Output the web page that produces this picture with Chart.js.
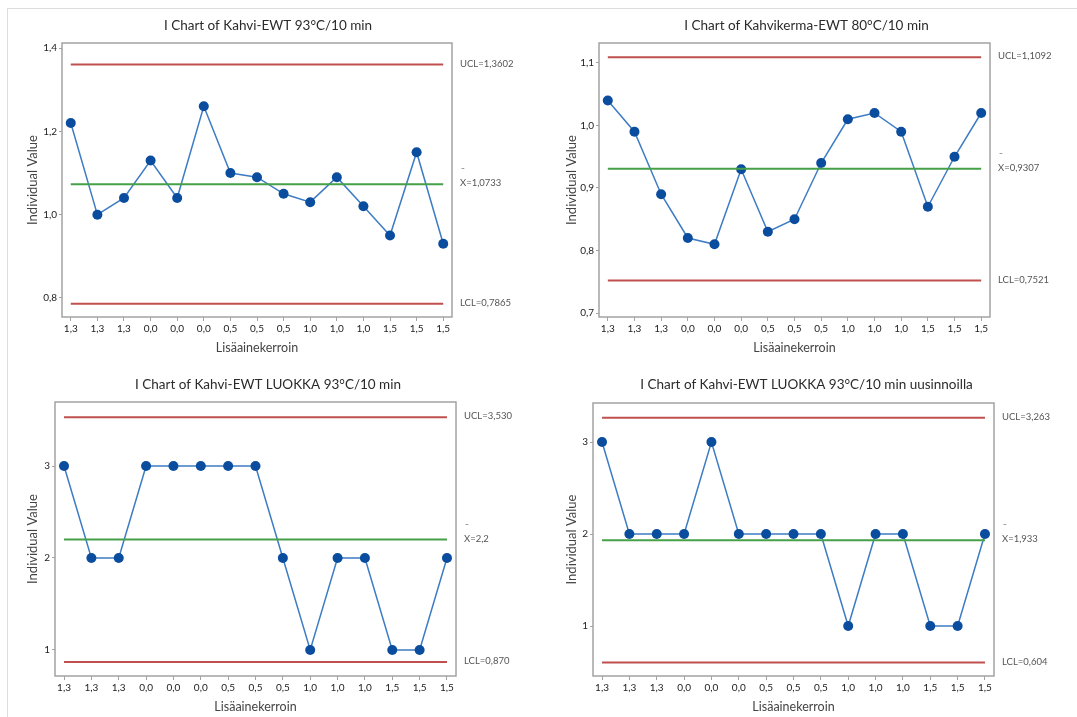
<!DOCTYPE html>
<html>
<head>
<meta charset="utf-8">
<script src="https://cdn.jsdelivr.net/npm/chart.js@4.4.1/dist/chart.umd.min.js"></script>
<style>
  html, body { margin: 0; padding: 0; background: #ffffff; }
  #page { position: relative; width: 1077px; height: 717px; overflow: hidden; background: #ffffff; }
  #frame { position: absolute; left: 7px; top: 8px; right: -2px; bottom: -2px;
           border-top: 1px solid #dcdcdc; border-left: 1px solid #dcdcdc; }
  canvas { position: absolute; }
</style>
</head>
<body>
<div id="page">
  <div id="frame"></div>
  <canvas id="c1" width="538" height="358" style="left:0px;top:0px"></canvas>
  <canvas id="c2" width="539" height="358" style="left:538px;top:0px"></canvas>
  <canvas id="c3" width="538" height="359" style="left:0px;top:358px"></canvas>
  <canvas id="c4" width="539" height="359" style="left:538px;top:358px"></canvas>
</div>
<script>
// Sample order labels (additive factor) shared by all four I charts
const categories = ['1,3','1,3','1,3','0,0','0,0','0,0','0,5','0,5','0,5','1,0','1,0','1,0','1,5','1,5','1,5'];

// Individual values
const kahviEwt93 = [1.22, 1.00, 1.04, 1.13, 1.04, 1.26, 1.10, 1.09, 1.05, 1.03, 1.09, 1.02, 0.95, 1.15, 0.93];
const kahvikermaEwt80 = [1.04, 0.99, 0.89, 0.82, 0.81, 0.93, 0.83, 0.85, 0.94, 1.01, 1.02, 0.99, 0.87, 0.95, 1.02];
const kahviLuokka93 = [3, 2, 2, 3, 3, 3, 3, 3, 2, 1, 2, 2, 1, 1, 2];
const kahviLuokka93Uusinnat = [3, 2, 2, 2, 3, 2, 2, 2, 2, 1, 2, 2, 1, 1, 2];

// Control limits: [UCL, mean, LCL] and the decimals shown for each
const limitsKahvi = [1.3602, 1.0733, 0.7865];
const limitsKahvikerma = [1.1092, 0.9307, 0.7521];
const limitsLuokka = [3.530, 2.2, 0.870];
const limitsLuokkaUusinnat = [3.263, 1.933, 0.604];
const decimalsKahvi = [4, 4, 4];
const decimalsKahvikerma = [4, 4, 4];
const decimalsLuokka = [3, 1, 3];
const decimalsLuokkaUusinnat = [3, 3, 3];

// Y axis tick values
const ticksKahvi = [0.8, 1.0, 1.2, 1.4];
const ticksKahvikerma = [0.7, 0.8, 0.9, 1.0, 1.1];
const ticksLuokka = [1, 2, 3];
const ticksLuokkaUusinnat = [1, 2, 3];

const titles = [
  'I Chart of Kahvi-EWT 93°C/10 min',
  'I Chart of Kahvikerma-EWT 80°C/10 min',
  'I Chart of Kahvi-EWT LUOKKA 93°C/10 min',
  'I Chart of Kahvi-EWT LUOKKA 93°C/10 min uusinnoilla'
];

const FONT = 'Lato, "Open Sans", sans-serif';
const RED = '#c0504d';
const GREEN = '#45a048';
const LINE_BLUE = '#3d7cc4';
const POINT_BLUE = '#0a4c9e';

function fmt(v, d) { return v.toFixed(d).replace('.', ','); }

// Draws the chart title, the plot frame and the limit annotations
const decorations = {
  id: 'decorations',
  beforeDatasetsDraw(chart, args, opts) {
    const { ctx, chartArea: a } = chart;
    ctx.save();
    ctx.strokeStyle = '#a3a3a3';
    ctx.lineWidth = 1.5;
    ctx.strokeRect(a.left, a.top, a.right - a.left, a.bottom - a.top);
    ctx.restore();
  },
  afterDraw(chart, args, opts) {
    const { ctx, chartArea: a, scales } = chart;
    ctx.save();
    ctx.fillStyle = '#2b2b2b';
    ctx.font = '13.5px ' + FONT;
    ctx.textAlign = 'center';
    ctx.textBaseline = 'middle';
    ctx.fillText(opts.title, chart.width / 2 - 1, opts.titleY);

    ctx.font = '9.5px ' + FONT;
    ctx.fillStyle = '#555555';
    ctx.textAlign = 'left';
    const x = a.right + 8;
    const [ucl, mean, lcl] = opts.limits;
    const [du, dm, dl] = opts.decimals;
    ctx.fillText('UCL=' + fmt(ucl, du), x, scales.y.getPixelForValue(ucl) - 1);
    const ym = scales.y.getPixelForValue(mean) - 1;
    ctx.fillText('X=' + fmt(mean, dm), x, ym);
    ctx.fillText('¯', x + 1, ym - 11);
    ctx.fillText('LCL=' + fmt(lcl, dl), x, scales.y.getPixelForValue(lcl) - 1);
    ctx.restore();
  }
};

function limitLine(value, color) {
  return {
    data: [{ x: 0, y: value }, { x: categories.length - 1, y: value }],
    borderColor: color,
    borderWidth: 2,
    pointRadius: 0,
    fill: false
  };
}

function makeChart(id, cfg) {
  const values = cfg.values;
  const [ucl, mean, lcl] = cfg.limits;
  return new Chart(document.getElementById(id), {
    type: 'line',
    data: {
      datasets: [
        limitLine(ucl, RED),
        limitLine(mean, GREEN),
        limitLine(lcl, RED),
        {
          data: values.map((v, i) => ({ x: i, y: v })),
          borderColor: LINE_BLUE,
          borderWidth: 1.5,
          pointRadius: 5,
          pointBackgroundColor: POINT_BLUE,
          pointBorderColor: POINT_BLUE,
          pointBorderWidth: 0,
          fill: false
        }
      ]
    },
    options: {
      responsive: false,
      animation: false,
      devicePixelRatio: 1,
      events: [],
      layout: { padding: cfg.padding },
      plugins: {
        legend: { display: false },
        tooltip: { enabled: false },
        title: { display: false },
        decorations: { title: cfg.title, titleY: cfg.titleY, limits: cfg.limits, decimals: cfg.decimals }
      },
      scales: {
        x: {
          type: 'linear',
          min: -0.33,
          max: categories.length - 1 + 0.33,
          afterBuildTicks(scale) { scale.ticks = categories.map((c, i) => ({ value: i })); },
          afterFit(scale) { scale.height = cfg.xHeight; },
          grid: { display: true, drawOnChartArea: false, drawTicks: true, tickLength: 4, color: '#a3a3a3', tickColor: '#a3a3a3' },
          border: { display: false },
          ticks: {
            autoSkip: false, maxRotation: 0, padding: 2,
            color: '#222222', font: { family: FONT, size: 10 },
            callback: (v) => categories[v]
          },
          title: { display: true, text: 'Lisäainekerroin', color: '#444444', padding: 0, font: { family: FONT, size: 12.5 } }
        },
        y: {
          type: 'linear',
          min: cfg.yMin,
          max: cfg.yMax,
          afterBuildTicks(scale) { scale.ticks = cfg.ticks.map(v => ({ value: v })); },
          afterFit(scale) { scale.width = cfg.yWidth; },
          grid: { display: true, drawOnChartArea: false, drawTicks: true, tickLength: 3, color: '#a3a3a3', tickColor: '#a3a3a3' },
          border: { display: false },
          ticks: {
            padding: 2,
            color: '#222222', font: { family: FONT, size: 10 },
            callback: (v) => cfg.tickDecimals ? fmt(v, cfg.tickDecimals) : String(v)
          },
          title: { display: true, text: 'Individual Value', color: '#444444', padding: 0, font: { family: FONT, size: 13 } }
        }
      }
    },
    plugins: [decorations]
  });
}

makeChart('c1', {
  values: kahviEwt93, limits: limitsKahvi, decimals: decimalsKahvi,
  ticks: ticksKahvi, tickDecimals: 1, yMin: 0.7544, yMax: 1.412,
  title: titles[0], titleY: 26,
  padding: { left: 25, top: 43, right: 86, bottom: 2.5 }, yWidth: 37, xHeight: 38.5
});
makeChart('c2', {
  values: kahvikermaEwt80, limits: limitsKahvikerma, decimals: decimalsKahvikerma,
  ticks: ticksKahvikerma, tickDecimals: 1, yMin: 0.6936, yMax: 1.132,
  title: titles[1], titleY: 26,
  padding: { left: 26, top: 43, right: 87, bottom: 2.5 }, yWidth: 35, xHeight: 38.5
});
makeChart('c3', {
  values: kahviLuokka93, limits: limitsLuokka, decimals: decimalsLuokka,
  ticks: ticksLuokka, tickDecimals: 0, yMin: 0.717, yMax: 3.696,
  title: titles[2], titleY: 27,
  padding: { left: 25, top: 44, right: 82, bottom: 2.5 }, yWidth: 30, xHeight: 38.5
});
makeChart('c4', {
  values: kahviLuokka93Uusinnat, limits: limitsLuokkaUusinnat, decimals: decimalsLuokkaUusinnat,
  ticks: ticksLuokkaUusinnat, tickDecimals: 0, yMin: 0.457, yMax: 3.424,
  title: titles[3], titleY: 27,
  padding: { left: 26, top: 45, right: 83, bottom: 2.5 }, yWidth: 29, xHeight: 38.5
});
</script>
</body>
</html>
